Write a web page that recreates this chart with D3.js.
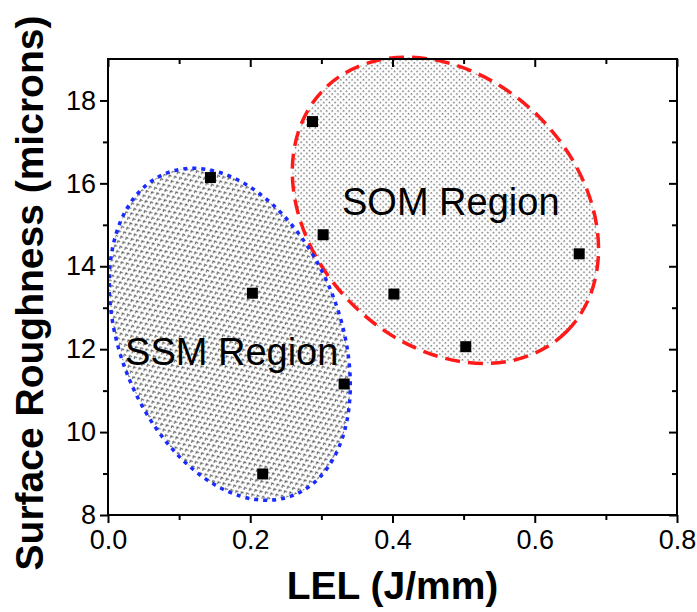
<!DOCTYPE html>
<html>
<head>
<meta charset="utf-8">
<script src="https://cdn.jsdelivr.net/npm/d3@7"></script>
<style>
  body { margin: 0; background: #fff; }
  text { font-family: Arial, "Liberation Sans", sans-serif; }
</style>
</head>
<body>
<div class="visual"></div>
<script>
const width = 697;
const height = 612;

// measured points (LEL, roughness)
const lel = [0.144, 0.203, 0.2175, 0.332, 0.2875, 0.3025, 0.402, 0.503, 0.6625];
const roughness = [16.14, 13.35, 8.99, 11.16, 17.49, 14.76, 13.33, 12.06, 14.30];

// regions: centre in data units, semi axes in LEL units, tilt in degrees
const regionNames = ["SOM Region", "SSM Region"];
const regionCx = [0.4744, 0.1712];
const regionCy = [15.35, 12.36];
const regionA = [0.241, 0.2434];
const regionB = [0.186, 0.1547];
const regionTilt = [45, 68.4];
const labelX = [0.329, 0.024];
const labelY = [15.24, 11.62];

const xTicks = [0, 0.2, 0.4, 0.6, 0.8];
const xMinor = [0.1, 0.3, 0.5, 0.7];
const yTicks = [8, 10, 12, 14, 16, 18];
const yMinor = [9, 11, 13, 15, 17];

const margin = { top: 59, right: 20, bottom: 97, left: 108 };

const svg = d3
  .select(".visual")
  .append("svg")
  .attr("width", width)
  .attr("height", height);

const x = d3.scaleLinear().domain([0, 0.8]).range([margin.left, width - margin.right]);
const y = d3.scaleLinear().domain([8, 19]).range([height - margin.bottom, margin.top]);

const defs = svg.append("defs");
// fine dot texture for SOM
const p1 = defs.append("pattern").attr("id", "dots")
  .attr("patternUnits", "userSpaceOnUse").attr("width", 4).attr("height", 4);
p1.append("rect").attr("x", 1).attr("y", 1).attr("width", 1.5).attr("height", 1.5).attr("fill", "#707070");
// chevron texture for SSM
const p2 = defs.append("pattern").attr("id", "chev")
  .attr("patternUnits", "userSpaceOnUse").attr("width", 6).attr("height", 9);
p2.append("path").attr("d", "M2.5,0 L0,2 L2.5,4 L3,3 L1.6,2 L3,1 Z").attr("fill", "#4a4a4a");
p2.append("path").attr("d", "M5.5,4.5 L3,6.5 L5.5,8.5 L6,7.5 L4.6,6.5 L6,5.5 Z").attr("fill", "#4a4a4a");

const fills = ["url(#dots)", "url(#chev)"];
const strokes = ["#ff1a1a", "#1a2bff"];
const dashes = ["15,8", "4,5"];

// regions
const regions = svg.append("g");
regionNames.forEach((name, i) => {
  regions
    .append("ellipse")
    .attr("transform", `translate(${x(regionCx[i])},${y(regionCy[i])}) rotate(${regionTilt[i]})`)
    .attr("rx", x(regionA[i]) - x(0))
    .attr("ry", x(regionB[i]) - x(0))
    .attr("fill", "white");
});
regionNames.forEach((name, i) => {
  regions
    .append("ellipse")
    .attr("transform", `translate(${x(regionCx[i])},${y(regionCy[i])}) rotate(${regionTilt[i]})`)
    .attr("rx", x(regionA[i]) - x(0))
    .attr("ry", x(regionB[i]) - x(0))
    .attr("fill", fills[i])
    .attr("stroke", strokes[i])
    .attr("stroke-width", 3.5)
    .attr("stroke-dasharray", dashes[i]);
});

// labels
regionNames.forEach((name, i) => {
  svg
    .append("text")
    .attr("x", x(labelX[i]))
    .attr("y", y(labelY[i]))
    .attr("font-size", 38)
    .attr("fill", "#000")
    .text(name);
});

// axes
const ax = svg.append("g").attr("class", "axes");
function styleAxis(g) {
  g.select(".domain").remove();
  g.selectAll("line").attr("stroke", "#000").attr("stroke-width", 2);
  g.selectAll("text").attr("font-size", 27).attr("fill", "#000");
}
ax.append("g")
  .attr("transform", `translate(0,${y(8)})`)
  .call(d3.axisBottom(x).tickValues(xTicks).tickSize(8).tickPadding(7).tickFormat(d3.format(".1f")))
  .call(styleAxis);
ax.append("g")
  .attr("transform", `translate(0,${y(8)})`)
  .call(d3.axisBottom(x).tickValues(xMinor).tickSize(5).tickFormat(""))
  .call(styleAxis);
ax.append("g")
  .attr("transform", `translate(${x(0)},0)`)
  .call(d3.axisLeft(y).tickValues(yTicks).tickSize(8).tickPadding(4).tickFormat(d3.format("d")))
  .call(styleAxis);
ax.append("g")
  .attr("transform", `translate(${x(0)},0)`)
  .call(d3.axisLeft(y).tickValues(yMinor).tickSize(5).tickFormat(""))
  .call(styleAxis);
// inward ticks on top and right
ax.append("g")
  .attr("transform", `translate(0,${y(19)})`)
  .call(d3.axisTop(x).tickValues(xTicks).tickSize(-8).tickFormat(""))
  .call(styleAxis);
ax.append("g")
  .attr("transform", `translate(0,${y(19)})`)
  .call(d3.axisTop(x).tickValues(xMinor).tickSize(-5).tickFormat(""))
  .call(styleAxis);
ax.append("g")
  .attr("transform", `translate(${x(0.8)},0)`)
  .call(d3.axisRight(y).tickValues(yTicks).tickSize(-8).tickFormat(""))
  .call(styleAxis);
ax.append("g")
  .attr("transform", `translate(${x(0.8)},0)`)
  .call(d3.axisRight(y).tickValues(yMinor).tickSize(-5).tickFormat(""))
  .call(styleAxis);

// frame
ax.append("rect")
  .attr("x", x(0))
  .attr("y", y(19))
  .attr("width", x(0.8) - x(0))
  .attr("height", y(8) - y(19))
  .attr("fill", "none")
  .attr("stroke", "#000")
  .attr("stroke-width", 2);

// points
svg
  .selectAll("rect.pt")
  .data(lel)
  .enter()
  .append("rect")
  .attr("class", "pt")
  .attr("x", (d) => x(d) - 5.5)
  .attr("y", (d, i) => y(roughness[i]) - 5.5)
  .attr("width", 11)
  .attr("height", 11)
  .attr("fill", "#000");

// axis titles
svg
  .append("text")
  .attr("x", (x(0) + x(0.8)) / 2)
  .attr("y", 599)
  .attr("text-anchor", "middle")
  .attr("font-size", 39)
  .attr("font-weight", "bold")
  .text("LEL (J/mm)");
svg
  .append("text")
  .attr("transform", `translate(43,${(y(8) + y(19)) / 2 + 6}) rotate(-90)`)
  .attr("text-anchor", "middle")
  .attr("font-size", 39)
  .attr("font-weight", "bold")
  .text("Surface Roughness (microns)");
</script>
</body>
</html>
